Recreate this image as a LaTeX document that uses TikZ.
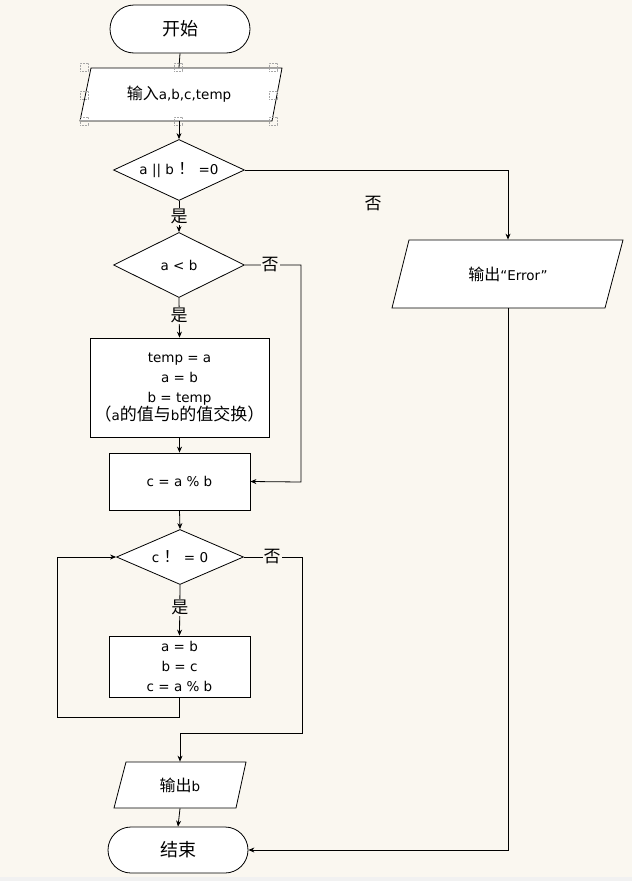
\documentclass[tikz,border=0pt]{standalone}
\usepackage{fontspec}
\setmainfont{DejaVu Sans}
\newfontfamily\cjk{Noto Sans CJK SC}
\usetikzlibrary{shapes.geometric,shapes.misc,arrows.meta}
\definecolor{bg}{HTML}{FAF7F0}
\definecolor{strip}{HTML}{F1F1F1}
\newcommand\zhc[1]{{\cjk\fontsize{16}{18}\selectfont #1}}
\begin{document}
\begin{tikzpicture}[x=1pt,y=-1pt,
  line width=0.8pt,
  base/.style={draw, fill=white, inner sep=0pt, font=\fontsize{13.5}{20}\selectfont, align=center},
  term/.style={base, rounded rectangle, minimum width=140pt, font=\cjk\fontsize{18}{20}\selectfont},
  dia/.style={base, diamond},
  proc/.style={base, rectangle},
  ghost/.style={inner sep=0pt, font=\fontsize{13.5}{20}\selectfont, align=center},
  io/.style={draw, fill=white},
  arr/.style={-{Stealth[length=6pt,width=5pt]}},
  lbl/.style={fill=bg, inner sep=1pt, font=\cjk\fontsize{17}{18}\selectfont},
  handle/.style={draw=gray!70, densely dotted, line width=0.6pt, minimum size=8pt, inner sep=0pt}
]
\useasboundingbox (0,0) rectangle (632,881);
\fill[bg] (0,0) rectangle (632,881);
\fill[strip] (0,877) rectangle (632,881);

% start
\node[term, minimum height=48pt] (start) at (180,29) {开始};

% input parallelogram
\draw[io] (91,68) -- (282,68) -- (272,121) -- (80,121) -- cycle;
\node[ghost, minimum height=53pt] (input) at (179,94.5) {\zhc{输入}a,b,c,temp};
\foreach \hx/\hy [count=\i] in {84/67,178/67,273/67,84/95,273/95,84/121,178/121,273/121}
  \node[handle] (h\i) at (\hx,\hy) {};

% decision 1
\node[dia, aspect=2.15, minimum width=131pt, minimum height=61pt] (d1) at (179,170) {a || b \zhc{！} =0};

% decision 2
\node[dia, aspect=2.0, minimum width=131pt, minimum height=65pt] (d2) at (179,265) {a < b};

% box1
\node[proc, minimum width=179pt, minimum height=99pt] (b1) at (179.5,387.5)
  {temp = a\\a = b\\b = temp\\[-2pt]{\cjk\fontsize{17}{18}\selectfont （}a{\cjk\fontsize{17}{18}\selectfont 的值与}b{\cjk\fontsize{17}{18}\selectfont 的值交换）}};

% box2
\node[proc, minimum width=141pt, minimum height=57pt] (b2) at (179.5,481.5) {c = a \% b};

% decision 3
\node[dia, aspect=2.3, minimum width=127pt, minimum height=55pt] (d3) at (180,557) {c \zhc{！} = 0};

% box3
\node[proc, minimum width=141pt, minimum height=61pt] (b3) at (179.5,666.5) {a = b\\b = c\\c = a \% b};

% output b
\draw[io] (126,762) -- (246,762) -- (236,808) -- (114,808) -- cycle;
\node[ghost, minimum height=46pt] (outb) at (180,785) {\zhc{输出}b};

% end
\node[term, minimum height=46pt] (end) at (178,850) {结束};

% error output
\draw[io] (409,240) -- (623,240) -- (605,308) -- (392,308) -- cycle;
\node[ghost, minimum height=68pt] (err) at (508,274) {\zhc{输出}``Error''};

% connectors
\draw (start.south) -- (input.north);
\draw[arr] (input.south) -- (d1.north);
\draw[arr] (d1.south) -- node[lbl, pos=0.5] (y1) {是} (d2.north);
\draw[arr] (d2.south) -- node[lbl, pos=0.45] (y2) {是} (b1.north);
\draw[arr] (b1.south) -- (b2.north);
\draw[arr] (b2.south) -- (d3.north);
\draw[arr] (d3.south) -- node[lbl, pos=0.45] (y3) {是} (b3.north);
\draw[arr] (outb.south) -- (end.north);

\draw[arr] (d1.east) -- (508,170) -- (err.north);
\node[font=\cjk\fontsize{17}{18}\selectfont] (n1) at (373,204) {否};

\coordinate (c2a) at (301,265);
\coordinate (c2b) at (301,482);
\draw[arr] (d2.east) -- (c2a) -- (c2b) -- (b2.east);
\node[lbl] (n2) at (270,265) {否};

\coordinate (c3a) at (302,557);
\coordinate (c3b) at (302,733);
\coordinate (c3c) at (180,733);
\draw[arr] (d3.east) -- (c3a) -- (c3b) -- (c3c) -- (outb.north);
\node[lbl] (n3) at (272,557) {否};

\coordinate (l1) at (179.5,717);
\coordinate (l2) at (57,717);
\coordinate (l3) at (57,557);
\draw[arr] (b3.south) -- (l1) -- (l2) -- (l3) -- (d3.west);

\coordinate (e1) at (508,850);
\draw[arr] (err.south) -- (e1) -- (end.east);
\end{tikzpicture}
\end{document}
